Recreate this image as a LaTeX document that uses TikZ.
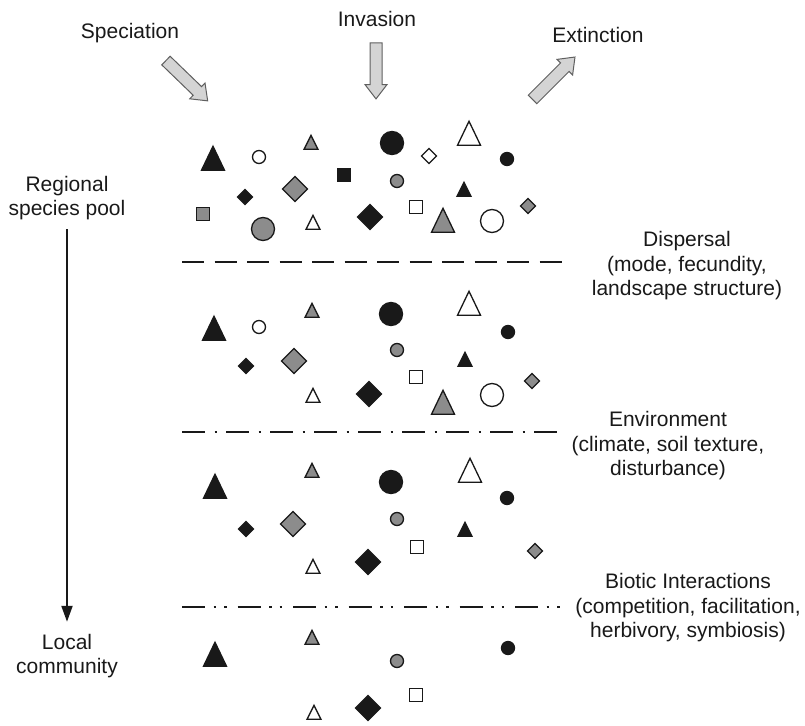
\documentclass[tikz,border=0pt]{standalone}
\usepackage{fontspec}
\setmainfont{Liberation Sans}
\usepackage{tikz}
\usetikzlibrary{arrows.meta, shapes.geometric, shapes.arrows}
\definecolor{ink}{RGB}{25, 25, 25}
\definecolor{midgray}{RGB}{140, 140, 140}
\definecolor{paleg}{RGB}{212, 212, 212}
\definecolor{rimg}{RGB}{95, 95, 95}

\begin{document}
\begin{tikzpicture}[x=1pt, y=-1pt,
  lbl/.style={align=center, text=ink, inner sep=2pt, font=\fontsize{21}{24.5}\selectfont},
  sp/.style={draw=ink, line width=1.3pt, inner sep=0pt, outer sep=0pt},
  blk/.style={sp, fill=ink},
  gry/.style={sp, fill=midgray},
  opn/.style={sp, fill=white},
  tri/.style={isosceles triangle, isosceles triangle stretches, shape border rotate=90, minimum width=23pt, minimum height=24pt},
  tris/.style={isosceles triangle, isosceles triangle stretches, shape border rotate=90, minimum width=14pt, minimum height=14pt},
  bigdot/.style={circle, minimum size=23pt},
  smalldot/.style={circle, minimum size=13pt},
  sq/.style={rectangle, minimum size=13.5pt},
  dia/.style={diamond, minimum width=25pt, minimum height=25pt},
  dias/.style={diamond, minimum width=15pt, minimum height=15pt},
  fat/.style={single arrow, draw=rimg, fill=paleg, line width=1pt, inner sep=5.5pt, single arrow head extend=5pt, single arrow tip angle=75},
  arr/.style={-{Triangle[length=16pt, width=11pt]}, line width=2.2pt, draw=ink, shorten <=7pt, shorten >=10pt},
  sepa/.style={draw=ink, line width=2.6pt, dash pattern=on 22pt off 10.5pt},
  sepb/.style={draw=ink, line width=2.6pt, dash pattern=on 23pt off 9.5pt on 2.5pt off 9pt},
  sepc/.style={draw=ink, line width=2.6pt, dash pattern=on 23pt off 8.5pt on 2.5pt off 8pt on 2.5pt off 11pt}]

  \useasboundingbox (0,0) rectangle (805,725);

  \node[lbl] (spec) at (130,33) {Speciation};
  \node[lbl] (inv) at (377,19) {Invasion};
  \node[lbl] (ext) at (598,35) {Extinction};
  \node[fat, minimum height=58pt, rotate=-44] (specarr) at (184,78) {};
  \node[fat, minimum height=56pt, rotate=-90] (invarr) at (376,67) {};
  \node[fat, minimum height=60pt, rotate=45] (extarr) at (551,81) {};

  \node[lbl] (pool) at (67,198) {Regional\\species pool};
  \node[lbl] (local) at (67,656) {Local\\community};
  \draw[arr] (pool) -- (local);

  \node[lbl] (disp) at (687,266) {Dispersal\\(mode, fecundity,\\landscape structure)};
  \node[lbl] (env) at (668,446) {Environment\\(climate, soil texture,\\disturbance)};
  \node[lbl] (bio) at (688,608) {Biotic Interactions\\(competition, facilitation,\\herbivory, symbiosis)};

  \coordinate (s1l) at (182,262);
  \coordinate (s1r) at (562,262);
  \coordinate (s2l) at (182,432);
  \coordinate (s2r) at (557,432);
  \coordinate (s3l) at (182,607);
  \coordinate (s3r) at (560,607);
  \draw[sepa] (s1l) -- (s1r);
  \draw[sepb] (s2l) -- (s2r);
  \draw[sepc] (s3l) -- (s3r);

  \node[tri, blk] (a1) at (213,163) {};
  \node[smalldot, opn] (a2) at (259,157) {};
  \node[tris, gry] (a3) at (311,145) {};
  \node[bigdot, blk] (a4) at (392,143) {};
  \node[dias, opn] (a5) at (429,156) {};
  \node[tri, opn] (a6) at (469,138) {};
  \node[smalldot, blk] (a7) at (507,159) {};
  \node[sq, blk] (a8) at (344,175) {};
  \node[smalldot, gry] (a9) at (397,181) {};
  \node[dias, blk] (a10) at (245,197) {};
  \node[dia, gry] (a11) at (295,189) {};
  \node[tris, blk] (a12) at (464,192) {};
  \node[sq, gry] (a13) at (203,214) {};
  \node[bigdot, gry] (a14) at (263,229) {};
  \node[tris, opn] (a15) at (313,225) {};
  \node[dia, blk] (a16) at (370,217) {};
  \node[sq, opn] (a17) at (416,207) {};
  \node[tri, gry] (a18) at (443,225) {};
  \node[bigdot, opn] (a19) at (492,221) {};
  \node[dias, gry] (a20) at (528,206) {};

  \node[tri, blk] (b1) at (214,333) {};
  \node[smalldot, opn] (b2) at (259,327) {};
  \node[tris, gry] (b3) at (312,313) {};
  \node[bigdot, blk] (b4) at (391,314) {};
  \node[tri, opn] (b5) at (469,308) {};
  \node[smalldot, blk] (b6) at (508,332) {};
  \node[smalldot, gry] (b7) at (397,350) {};
  \node[dias, blk] (b8) at (246,366) {};
  \node[dia, gry] (b9) at (294,361) {};
  \node[tris, blk] (b10) at (465,362) {};
  \node[sq, opn] (b11) at (416,377) {};
  \node[dias, gry] (b12) at (532,381) {};
  \node[tris, opn] (b13) at (313,398) {};
  \node[dia, blk] (b14) at (369,394) {};
  \node[tri, gry] (b15) at (443,407) {};
  \node[bigdot, opn] (b16) at (492,395) {};

  \node[tri, blk] (c1) at (215,491) {};
  \node[tris, gry] (c2) at (312,473) {};
  \node[bigdot, blk] (c3) at (391,482) {};
  \node[tri, opn] (c4) at (470,475) {};
  \node[smalldot, blk] (c5) at (507,498) {};
  \node[smalldot, gry] (c6) at (397,519) {};
  \node[dias, blk] (c7) at (246,529) {};
  \node[dia, gry] (c8) at (293,524) {};
  \node[tris, blk] (c9) at (465,532) {};
  \node[sq, opn] (c10) at (417,547) {};
  \node[dias, gry] (c11) at (535,551) {};
  \node[tris, opn] (c12) at (313,569) {};
  \node[dia, blk] (c13) at (368,562) {};

  \node[tris, gry] (d1) at (312,640) {};
  \node[tri, blk] (d2) at (215,659) {};
  \node[smalldot, blk] (d3) at (508,648) {};
  \node[smalldot, gry] (d4) at (397,661) {};
  \node[sq, opn] (d5) at (416,695) {};
  \node[dia, blk] (d6) at (368,708) {};
  \node[tris, opn] (d7) at (314,715) {};
\end{tikzpicture}
\end{document}
